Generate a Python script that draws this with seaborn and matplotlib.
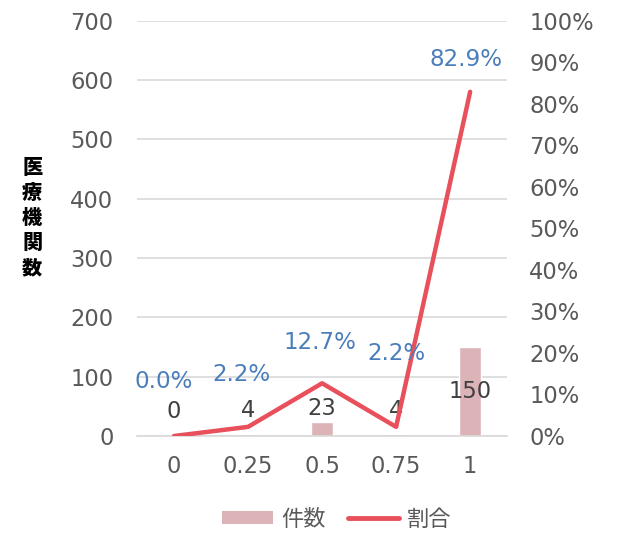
import numpy as np
import pandas as pd
import matplotlib
matplotlib.use("Agg")
import matplotlib.pyplot as plt
import seaborn as sns
from matplotlib.patches import Patch
from matplotlib.lines import Line2D

categories = ["0", "0.25", "0.5", "0.75", "1"]
counts = [0, 4, 23, 4, 150]
ratios = [0.0, 2.2, 12.7, 2.2, 82.9]
count_labels = ["0", "4", "23", "4", "150"]
ratio_labels = ["0.0%", "2.2%", "12.7%", "2.2%", "82.9%"]
left_ticks = [0, 100, 200, 300, 400, 500, 600, 700]
right_ticks = [0, 10, 20, 30, 40, 50, 60, 70, 80, 90, 100]

sns.set_theme(style="white")
plt.rcParams['font.family'] = ['DejaVu Sans', 'Noto Sans CJK JP']
plt.rcParams['font.sans-serif'] = ['DejaVu Sans']

df = pd.DataFrame({"cat": categories, "count": counts, "ratio": ratios})

fig = plt.figure(figsize=(6.2, 5.33), dpi=100)
ax = fig.add_axes([0.221, 0.182, 0.597, 0.779])

grey = "#595959"
bar_color = "#dcb4b8"
line_color = "#e8505b"
FS = 16.3

sns.barplot(data=df, x="cat", y="count", color=bar_color, width=0.3,
            saturation=1, ax=ax, zorder=2)
ax.set_ylim(0, 700)
ax.set_yticks(left_ticks)
ax.set_xlim(-0.5, len(categories) - 0.5)
ax.grid(axis="y", color="#d9d9d9", linewidth=1.2, zorder=0)
ax.set_axisbelow(True)
for s in ["left", "right", "top"]:
    ax.spines[s].set_visible(False)
ax.spines["bottom"].set_color("#d9d9d9")
ax.spines["bottom"].set_linewidth(1.2)
ax.tick_params(axis="both", colors=grey, labelsize=FS, length=0, pad=14)
ax.tick_params(axis="y", pad=17)
for t in ax.get_xticklabels() + ax.get_yticklabels():
    t.set_family("DejaVu Sans")
ax.set_xlabel("")
ax.set_ylabel("")

for i, (v, lab) in enumerate(zip(counts, count_labels)):
    ax.text(i, 42 + v * 0.22, lab, ha="center", va="center", fontsize=FS,
            color="#404040", family="DejaVu Sans", zorder=5)

ax2 = ax.twinx()
sns.lineplot(data=df, x="cat", y="ratio", color=line_color, linewidth=3.2,
             ax=ax2, sort=False, zorder=4)
ax2.set_ylim(0, 100)
ax2.set_yticks(right_ticks)
ax2.set_yticklabels([f"{t}%" for t in right_ticks])
ax2.set_xlim(-0.5, len(categories) - 0.5)
for s in ["left", "right", "top", "bottom"]:
    ax2.spines[s].set_visible(False)
ax2.tick_params(axis="y", colors=grey, labelsize=FS, length=0, pad=16)
for t in ax2.get_yticklabels():
    t.set_family("DejaVu Sans")
ax2.set_ylabel("")
ax2.set_xlabel("")

offsets = [(-10, 54), (-7, 52), (-2, 41), (0, 73), (-4, 32)]
for i, (v, lab) in enumerate(zip(ratios, ratio_labels)):
    dx, dy = offsets[i]
    ax2.annotate(lab, (i, v), xytext=(dx * 0.72, dy * 0.72), textcoords="offset points",
                 ha="center", va="center", fontsize=FS + 0.3, color="#4a7ebb",
                 family="DejaVu Sans", zorder=6)

fig.text(0.052, 0.591, "医\n療\n機\n関\n数", family=['Noto Sans CJK JP'],
         fontsize=14.5, fontweight="black", color="black", ha="center", va="center",
         linespacing=1.32)

handles = [Patch(facecolor=bar_color, edgecolor="none"),
           Line2D([0], [0], color=line_color, linewidth=3.5)]
leg = fig.legend(handles, ["件数", "割合"], loc="center", bbox_to_anchor=(0.543, 0.026),
                 ncol=2, frameon=False, handlelength=2.3, handleheight=0.55,
                 handletextpad=0.35, columnspacing=1.0,
                 prop={"family": ['Noto Sans CJK JP'], "size": 16})
for t in leg.get_texts():
    t.set_color(grey)

fig.savefig("out.png", dpi=100)
